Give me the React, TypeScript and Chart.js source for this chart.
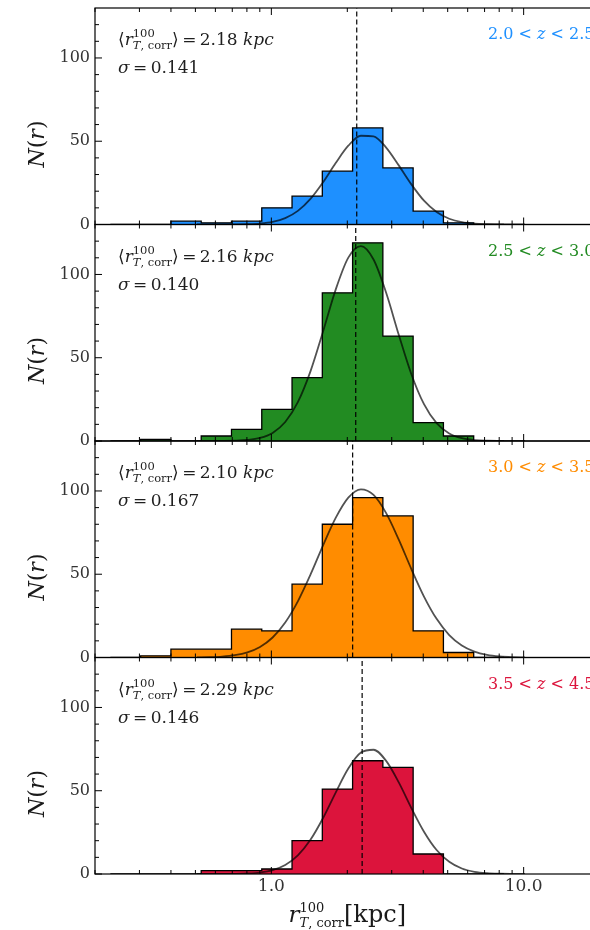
import React, { useEffect, useRef } from "react";
import { Chart, registerables } from "chart.js";

Chart.register(...registerables);

// ---------------- data ----------------
// logarithmic histogram bin edges (kpc), shared by all four redshift bins
const binEdges = [0.2301, 0.3034, 0.3999, 0.5272, 0.695, 0.9162, 1.2078, 1.5922, 2.0989, 2.7669, 3.6475, 4.8084, 6.3387, 8.356];
// counts per bin
const countsZ1 = [0, 0, 2, 1, 2, 10, 17, 32, 58, 34, 8, 1, 0];
const countsZ2 = [0, 1, 0, 3, 7, 19, 38, 89, 119, 63, 11, 3, 0];
const countsZ3 = [0, 1, 5, 5, 17, 16, 44, 80, 96, 85, 16, 3, 0];
const countsZ4 = [0, 0, 0, 2, 2, 3, 20, 51, 68, 64, 12, 0, 0];

const fitX = [0.507, 0.5689, 0.6383, 0.7161, 0.8035, 0.9016, 1.0116, 1.135, 1.2735, 1.4289, 1.6032, 1.7989, 2.0184, 2.2646, 2.541, 2.851, 3.1989, 3.5892, 4.0272, 4.5186, 5.0699, 5.6885, 6.3826, 7.1614, 8.0353, 9.0157, 10.116];
const fitZ1 = [0, 0, 0.01, 0.05, 0.18, 0.58, 1.58, 3.83, 8.18, 15.4, 25.4, 36.9, 47.3, 53.3, 52.9, 46.2, 35.5, 24.1, 14.3, 7.5, 3.47, 1.41, 0.5, 0.16, 0.04, 0.01, 0];
const fitZ2 = [0, 0.01, 0.04, 0.17, 0.6, 1.83, 4.87, 11.4, 23.3, 41.8, 65.8, 90.9, 110.1, 117, 109.0, 89.0, 63.8, 40.1, 22.1, 10.7, 4.52, 1.68, 0.55, 0.16, 0.04, 0.01, 0];
const fitZ3 = [0.07, 0.21, 0.55, 1.36, 3.05, 6.31, 12.0, 21.0, 33.7, 49.7, 67.3, 83.8, 96.0, 101, 97.6, 86.7, 70.8, 53.1, 36.6, 23.2, 13.5, 7.23, 3.55, 1.61, 0.67, 0.25, 0.09];
const fitZ4 = [0, 0.006, 0.02, 0.09, 0.3, 0.89, 2.32, 5.39, 11.2, 20.5, 33.6, 48.9, 63.3, 72.9, 74.6, 67.9, 55.0, 39.6, 25.4, 14.4, 7.32, 3.29, 1.32, 0.47, 0.15, 0.04, 0.01];

const meanR = [2.18, 2.16, 2.1, 2.29];
const meanText = ["2.18", "2.16", "2.10", "2.29"];
const sigmaText = ["0.141", "0.140", "0.167", "0.146"];
const zLow = ["2.0", "2.5", "3.0", "3.5"];
const zHigh = ["2.5", "3.0", "3.5", "4.5"];
const panelColors = ["#1E90FF", "#228B22", "#FF8C00", "#DC143C"];

const yMajorTicks = [0, 50, 100];
const yTickLabels = ["0", "50", "100"];
const yMinorTicks = [10, 20, 30, 40, 60, 70, 80, 90, 110, 120];
const xMajorTicks = [1, 10];
const xTickLabels = ["1.0", "10.0"];
const xMinorTicks = [0.2, 0.3, 0.4, 0.5, 0.6, 0.7, 0.8, 0.9, 2, 3, 4, 5, 6, 7, 8, 9, 20];
const xRange = [0.2, 20];
const yRange = [0, 130];

const allCounts = [countsZ1, countsZ2, countsZ3, countsZ4];
const allFits = [fitZ1, fitZ2, fitZ3, fitZ4];

// ---------------- layout ----------------
const W = 620;
const H = 930;
const PANEL_TOP = 8;
const PANEL_H = 216.5;
const PLOT_LEFT = 95;
const PLOT_RIGHT = 599.6;

const SERIF = '"DejaVu Serif", "Liberation Serif", serif';
const F = (size: number, style = "normal", weight = "normal") => `${style} ${weight} ${size}px ${SERIF}`;

type P = { t: string; f: string; dy?: number };
type Item = P | { stack: P[][] };

function runWidth(ctx: CanvasRenderingContext2D, run: P[]) {
  let w = 0;
  for (const p of run) {
    ctx.font = p.f;
    w += ctx.measureText(p.t).width;
  }
  return w;
}
function itemWidth(ctx: CanvasRenderingContext2D, it: Item) {
  if ("stack" in it) return Math.max(...it.stack.map((r) => runWidth(ctx, r)));
  return runWidth(ctx, [it]);
}
function drawItems(ctx: CanvasRenderingContext2D, items: Item[], x: number, y: number, align: "left" | "center" = "left") {
  const total = items.reduce((s, it) => s + itemWidth(ctx, it), 0);
  let cx = align === "center" ? x - total / 2 : x;
  ctx.textAlign = "left";
  for (const it of items) {
    const w = itemWidth(ctx, it);
    if ("stack" in it) {
      for (const run of it.stack) {
        let rx = cx;
        for (const p of run) {
          ctx.font = p.f;
          ctx.fillText(p.t, rx, y + (p.dy || 0));
          rx += ctx.measureText(p.t).width;
        }
      }
    } else {
      ctx.font = it.f;
      ctx.fillText(it.t, cx, y + (it.dy || 0));
    }
    cx += w;
  }
}

function makeDecor(i: number) {
  return {
    id: "decor" + i,
    afterDraw(chart: any) {
      const ctx: CanvasRenderingContext2D = chart.ctx;
      const a = chart.chartArea;
      const xs = chart.scales.x;
      const ys = chart.scales.y;
      ctx.save();
      ctx.strokeStyle = "#000";
      ctx.lineWidth = 1;
      const seg = (x1: number, y1: number, x2: number, y2: number) => {
        ctx.beginPath();
        ctx.moveTo(x1, y1);
        ctx.lineTo(x2, y2);
        ctx.stroke();
      };
      // inward ticks on all sides
      const xTick = (v: number, len: number) => {
        const px = xs.getPixelForValue(v);
        seg(px, a.top, px, a.top + len);
        seg(px, a.bottom, px, a.bottom - len);
      };
      xMajorTicks.forEach((v) => xTick(v, 7));
      xMinorTicks.forEach((v) => xTick(v, 4));
      const yTick = (v: number, len: number) => {
        const py = ys.getPixelForValue(v);
        seg(a.left, py, a.left + len, py);
        seg(a.right, py, a.right - len, py);
      };
      yMajorTicks.forEach((v) => yTick(v, 7));
      yMinorTicks.forEach((v) => yTick(v, 4));
      // frame
      ctx.lineWidth = 1.2;
      ctx.strokeRect(a.left, a.top, a.right - a.left, a.bottom - a.top);

      // y tick labels
      ctx.fillStyle = "#333";
      ctx.font = F(16);
      ctx.textAlign = "right";
      ctx.textBaseline = "middle";
      yMajorTicks.forEach((v, j) => ctx.fillText(yTickLabels[j], a.left - 5, ys.getPixelForValue(v)));

      // y title N(r)
      ctx.textBaseline = "alphabetic";
      ctx.fillStyle = "#1a1a1a";
      ctx.save();
      ctx.translate(38, a.top + 136);
      ctx.rotate(-Math.PI / 2);
      drawItems(
        ctx,
        [
          { t: "N", f: F(22, "italic") },
          { t: "(", f: F(22) },
          { t: "r", f: F(22, "italic") },
          { t: ")", f: F(22) },
        ],
        0,
        6,
        "center"
      );
      ctx.restore();

      // annotations
      ctx.fillStyle = "#1f1f1f";
      const tx = a.left + 23;
      drawItems(
        ctx,
        [
          { t: "⟨", f: F(17) },
          { t: "r", f: F(17, "italic") },
          {
            stack: [
              [{ t: "100", f: F(11.5), dy: -8 }],
              [
                { t: "T", f: F(11.5, "italic"), dy: 4 },
                { t: ", corr", f: F(11.5), dy: 4 },
              ],
            ],
          },
          { t: "⟩", f: F(17) },
          { t: "\u2009=\u2009", f: F(17) },
          { t: meanText[i], f: F(17) },
          { t: " ", f: F(17) },
          { t: "kpc", f: F(17, "italic") },
        ],
        tx,
        a.top + 37
      );
      drawItems(
        ctx,
        [
          { t: "σ", f: F(17, "italic") },
          { t: "\u2009=\u2009", f: F(17) },
          { t: sigmaText[i], f: F(17) },
        ],
        tx,
        a.top + 65
      );

      // redshift label
      ctx.fillStyle = panelColors[i];
      drawItems(
        ctx,
        [
          { t: zLow[i], f: F(16) },
          { t: " < ", f: F(16) },
          { t: "z", f: F(16, "italic") },
          { t: " < ", f: F(16) },
          { t: zHigh[i], f: F(16) },
        ],
        a.left + 393,
        a.top + 31
      );

      // bottom panel: x tick labels and x title
      if (i === 3) {
        ctx.fillStyle = "#333";
        ctx.font = F(17);
        ctx.textAlign = "center";
        ctx.textBaseline = "alphabetic";
        xMajorTicks.forEach((v, j) => ctx.fillText(xTickLabels[j], xs.getPixelForValue(v), a.bottom + 17));
        ctx.fillStyle = "#1a1a1a";
        drawItems(
          ctx,
          [
            { t: "r", f: F(23, "italic") },
            {
              stack: [
                [{ t: "100", f: F(13), dy: -10 }],
                [
                  { t: "T", f: F(13, "italic"), dy: 5 },
                  { t: ", corr", f: F(13), dy: 5 },
                ],
              ],
            },
            { t: "[kpc]", f: F(24) },
          ],
          (a.left + a.right) / 2,
          a.bottom + 48,
          "center"
        );
      }
      ctx.restore();
    },
  };
}

function buildConfig(i: number): any {
  const counts = allCounts[i];
  const hist: { x: number; y: number }[] = [{ x: binEdges[0], y: 0 }];
  counts.forEach((c, k) => {
    hist.push({ x: binEdges[k], y: c });
    hist.push({ x: binEdges[k + 1], y: c });
  });
  hist.push({ x: binEdges[binEdges.length - 1], y: 0 });
  const fit = fitX.map((x, k) => ({ x, y: allFits[i][k] }));
  const top = PANEL_TOP + i * PANEL_H;
  const bottom = H - (top + PANEL_H);
  return {
    type: "line",
    data: {
      datasets: [
        {
          data: fit,
          borderColor: "rgba(0,0,0,0.68)",
          borderWidth: 1.8,
          pointRadius: 0,
          fill: false,
          cubicInterpolationMode: "monotone",
        },
        {
          data: [
            { x: meanR[i], y: yRange[0] },
            { x: meanR[i], y: yRange[1] },
          ],
          borderColor: "#000",
          borderWidth: 1.2,
          borderDash: [5, 3],
          pointRadius: 0,
          fill: false,
        },
        {
          data: hist,
          borderColor: "#000",
          borderWidth: 1.3,
          backgroundColor: panelColors[i],
          pointRadius: 0,
          fill: "origin",
          tension: 0,
        },
      ],
    },
    options: {
      animation: false,
      responsive: false,
      maintainAspectRatio: false,
      events: [],
      layout: { padding: { left: PLOT_LEFT, right: W - PLOT_RIGHT, top, bottom } },
      plugins: { legend: { display: false }, tooltip: { enabled: false }, title: { display: false } },
      scales: {
        x: { type: "logarithmic", min: xRange[0], max: xRange[1], display: false },
        y: { type: "linear", min: yRange[0], max: yRange[1], display: false },
      },
    },
    plugins: [makeDecor(i)],
  };
}

export default function App() {
  const canvases = useRef<(HTMLCanvasElement | null)[]>([]);
  useEffect(() => {
    const charts = [0, 1, 2, 3].map((i) => new Chart(canvases.current[i] as HTMLCanvasElement, buildConfig(i)));
    return () => charts.forEach((c) => c.destroy());
  }, []);
  return (
    <div style={{ position: "fixed", left: 0, top: 0, width: 590, height: 930, overflow: "hidden", background: "#fff" }}>
      {[0, 1, 2, 3].map((i) => (
        <canvas
          key={i}
          ref={(el) => {
            canvases.current[i] = el;
          }}
          width={W}
          height={H}
          style={{ position: "absolute", left: 0, top: 0, width: W, height: H }}
        />
      ))}
    </div>
  );
}
